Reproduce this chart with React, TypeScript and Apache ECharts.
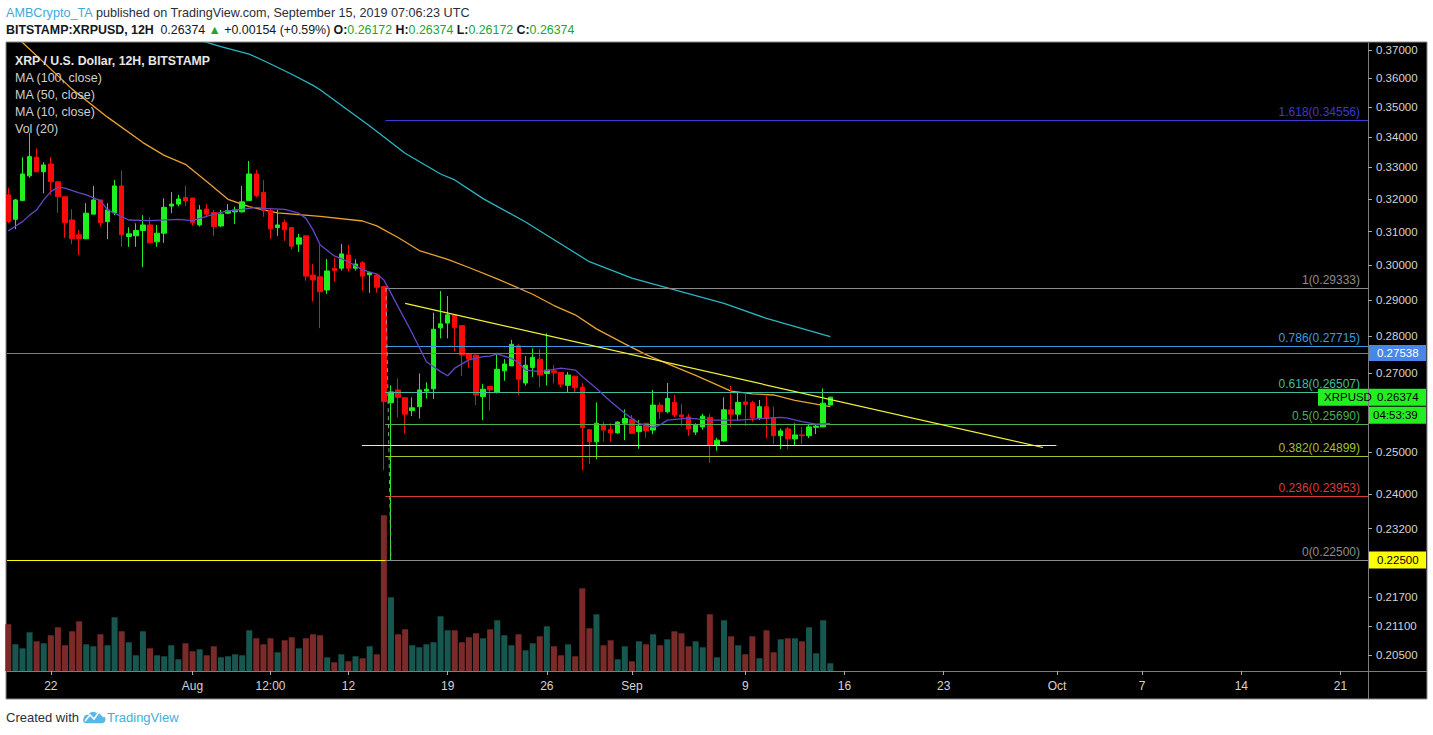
import React, { useEffect, useRef } from 'react';
import * as echarts from 'echarts';

// ---------- data ----------
const HALF_DAY = 12 * 3600 * 1000;
const FIRST_CANDLE = Date.UTC(2019, 6, 19, 0, 0, 0); // 12H candles, BITSTAMP:XRPUSD

const opens = [
  0.3213, 0.3137, 0.3195, 0.3273, 0.3333, 0.3286, 0.3311, 0.3254, 0.3207, 0.3135,
  0.3090, 0.3078, 0.3153, 0.3197, 0.3130, 0.3157, 0.3241, 0.3085, 0.3087, 0.3103,
  0.3120, 0.3069, 0.3095, 0.3178, 0.3184, 0.3205, 0.3203, 0.3120, 0.3169, 0.3158,
  0.3117, 0.3156, 0.3160, 0.3160, 0.3195, 0.3279, 0.3220, 0.3164, 0.3112, 0.3127,
  0.3112, 0.3062, 0.3087, 0.2971, 0.2966, 0.2928, 0.2990, 0.2991, 0.3030, 0.2991,
  0.3007, 0.2972, 0.2971, 0.2938, 0.2623, 0.2656, 0.2636, 0.2603, 0.2613, 0.2653,
  0.2659, 0.2822, 0.2835, 0.2858, 0.2828, 0.2751, 0.2748, 0.2639, 0.2665, 0.2651,
  0.2706, 0.2719, 0.2773, 0.2674, 0.2715, 0.2737, 0.2699, 0.2706, 0.2702, 0.2668,
  0.2692, 0.2663, 0.2555, 0.2525, 0.2567, 0.2555, 0.2547, 0.2571, 0.2581, 0.2550,
  0.2571, 0.2554, 0.2617, 0.2600, 0.2624, 0.2592, 0.2587, 0.2549, 0.2562, 0.2586,
  0.2517, 0.2527, 0.2605, 0.2594, 0.2625, 0.2623, 0.2585, 0.2613, 0.2585, 0.2540,
  0.2557, 0.2532, 0.2542, 0.2540, 0.2561, 0.2562, 0.26172,
];
const highs = [
  0.3235, 0.3200, 0.3333, 0.3413, 0.3362, 0.3317, 0.3333, 0.3254, 0.3207, 0.3168,
  0.3105, 0.3187, 0.3241, 0.3197, 0.3187, 0.3260, 0.3290, 0.3113, 0.3125, 0.3150,
  0.3143, 0.3120, 0.3202, 0.3222, 0.3213, 0.3241, 0.3203, 0.3181, 0.3184, 0.3166,
  0.3166, 0.3184, 0.3176, 0.3241, 0.3321, 0.3292, 0.3260, 0.3171, 0.3166, 0.3137,
  0.3112, 0.3093, 0.3087, 0.3003, 0.3060, 0.3018, 0.3022, 0.3063, 0.3060, 0.3017,
  0.3012, 0.2978, 0.2976, 0.2938, 0.2668, 0.2686, 0.2636, 0.2637, 0.2699, 0.2676,
  0.2864, 0.2925, 0.2911, 0.2858, 0.2828, 0.2751, 0.2748, 0.2672, 0.2665, 0.2754,
  0.2737, 0.2789, 0.2777, 0.2745, 0.2766, 0.2764, 0.2807, 0.2721, 0.2702, 0.2703,
  0.2692, 0.2674, 0.2555, 0.2624, 0.2575, 0.2571, 0.2576, 0.2606, 0.2592, 0.2579,
  0.2571, 0.2656, 0.2624, 0.2674, 0.2643, 0.2620, 0.2595, 0.2571, 0.2595, 0.2595,
  0.2535, 0.2637, 0.2667, 0.2651, 0.2651, 0.2628, 0.2630, 0.2640, 0.2613, 0.2558,
  0.2562, 0.2571, 0.2562, 0.2569, 0.2567, 0.2660, 0.26374,
];
const lows = [
  0.3126, 0.3107, 0.3195, 0.3267, 0.3286, 0.3218, 0.3213, 0.3157, 0.3081, 0.3062,
  0.3030, 0.3078, 0.3153, 0.3115, 0.3077, 0.3150, 0.3054, 0.3054, 0.3054, 0.2994,
  0.3066, 0.3054, 0.3066, 0.3156, 0.3177, 0.3178, 0.3117, 0.3115, 0.3143, 0.3087,
  0.3113, 0.3153, 0.3123, 0.3158, 0.3195, 0.3205, 0.3145, 0.3078, 0.3087, 0.3072,
  0.3046, 0.3039, 0.2955, 0.2895, 0.2821, 0.2917, 0.2952, 0.2984, 0.2981, 0.2984,
  0.2926, 0.2920, 0.2920, 0.2456, 0.2250, 0.2586, 0.2545, 0.2589, 0.2583, 0.2634,
  0.2633, 0.2793, 0.2793, 0.2757, 0.2692, 0.2714, 0.2617, 0.2579, 0.2603, 0.2647,
  0.2680, 0.2719, 0.2643, 0.2667, 0.2690, 0.2663, 0.2668, 0.2673, 0.2663, 0.2649,
  0.2651, 0.2456, 0.2471, 0.2482, 0.2525, 0.2525, 0.2545, 0.2529, 0.2546, 0.2508,
  0.2535, 0.2544, 0.2582, 0.2596, 0.2587, 0.2564, 0.2540, 0.2542, 0.2555, 0.2474,
  0.2503, 0.2525, 0.2562, 0.2579, 0.2564, 0.2575, 0.2579, 0.2534, 0.2520, 0.2507,
  0.2507, 0.2515, 0.2520, 0.2534, 0.2544, 0.2562, 0.26172,
];
const closes = [
  0.3130, 0.3197, 0.3279, 0.3335, 0.3286, 0.3308, 0.3254, 0.3207, 0.3127, 0.3078,
  0.3078, 0.3156, 0.3197, 0.3127, 0.3166, 0.3241, 0.3090, 0.3093, 0.3103, 0.3120,
  0.3066, 0.3095, 0.3174, 0.3184, 0.3200, 0.3194, 0.3127, 0.3166, 0.3153, 0.3115,
  0.3153, 0.3164, 0.3166, 0.3191, 0.3279, 0.3210, 0.3164, 0.3108, 0.3120, 0.3105,
  0.3056, 0.3081, 0.2968, 0.2957, 0.2923, 0.2983, 0.2984, 0.3033, 0.2991, 0.3003,
  0.2968, 0.2978, 0.2936, 0.2626, 0.2651, 0.2637, 0.2594, 0.2610, 0.2656, 0.2658,
  0.2818, 0.2833, 0.2858, 0.2822, 0.2748, 0.2737, 0.2643, 0.2658, 0.2656, 0.2710,
  0.2724, 0.2777, 0.2684, 0.2721, 0.2742, 0.2695, 0.2708, 0.2701, 0.2671, 0.2695,
  0.2662, 0.2560, 0.2525, 0.2571, 0.2554, 0.2547, 0.2574, 0.2583, 0.2546, 0.2564,
  0.2552, 0.2617, 0.2600, 0.2634, 0.2592, 0.2587, 0.2557, 0.2566, 0.2589, 0.2517,
  0.2529, 0.2605, 0.2594, 0.2624, 0.2619, 0.2585, 0.2613, 0.2583, 0.2540, 0.2552,
  0.2532, 0.2542, 0.2540, 0.2562, 0.2564, 0.2622, 0.26374,
];
const volumes = [
  46.7, 26.7, 22.7, 38.7, 29.7, 27.7, 35.7, 43.7, 25.7, 39.7,
  49.7, 26.7, 24.7, 36.7, 25.7, 53.7, 39.7, 28.7, 15.7, 39.7,
  22.7, 15.7, 14.7, 25.7, 11.7, 27.7, 19.7, 21.7, 15.7, 24.7,
  13.7, 14.7, 16.7, 15.7, 40.7, 32.7, 26.7, 32.7, 18.7, 30.7,
  33.7, 22.7, 32.7, 36.7, 35.7, 13.7, 8.7, 16.7, 9.7, 14.7,
  12.7, 24.7, 16.7, 155.7, 73.7, 36.7, 41.7, 25.7, 23.7, 26.7,
  28.7, 54.7, 40.7, 40.7, 28.7, 33.7, 37.7, 32.7, 41.7, 50.7,
  35.7, 25.7, 36.7, 20.7, 27.7, 34.7, 44.7, 24.7, 15.7, 26.7,
  14.7, 82.7, 42.7, 56.7, 25.7, 30.7, 11.7, 24.7, 9.7, 29.7,
  26.7, 36.7, 25.7, 31.7, 39.7, 37.7, 24.7, 29.7, 23.7, 56.7,
  13.7, 50.7, 34.7, 25.7, 16.7, 34.7, 12.7, 40.7, 18.7, 31.7,
  32.7, 32.7, 29.7, 43.7, 17.7, 50.7, 7.7,
];

// moving averages: [candle index, value]
const ma100 = [
  [27, 0.3736], [30, 0.3713], [34, 0.3686], [36, 0.3663], [40, 0.3614], [43, 0.3575],
  [44, 0.356], [51, 0.3436], [56, 0.3346], [61, 0.3279], [63, 0.326], [67, 0.3201],
  [73, 0.3129], [79, 0.3049], [82, 0.301], [88, 0.2962], [93, 0.2934], [101, 0.289],
  [107, 0.2848], [116, 0.2798],
];
const ma50 = [
  [0, 0.3777], [2, 0.3728], [9, 0.3562], [14, 0.3466], [19, 0.3381], [22, 0.3339],
  [25, 0.331], [28, 0.3255], [31, 0.3199], [34, 0.3176], [38, 0.3157], [44, 0.3146],
  [50, 0.3132], [52, 0.3117], [55, 0.3082], [58, 0.3043], [62, 0.3017], [65, 0.2993],
  [69, 0.296], [74, 0.2916], [77, 0.2884], [80, 0.2858], [83, 0.2819], [87, 0.2778],
  [90, 0.2749], [94, 0.2717], [97, 0.2694], [102, 0.2653], [105, 0.2646], [108, 0.2643],
  [111, 0.2629], [116, 0.2613],
];
const ma10 = [
  [0, 0.3102], [1, 0.3116], [2, 0.313], [3, 0.315], [4, 0.3166], [5, 0.3197], [6, 0.3223],
  [7, 0.3237], [8, 0.3234], [10, 0.3219], [11, 0.3213], [13, 0.3195], [14, 0.3166],
  [17, 0.3135], [20, 0.3133], [24, 0.3137], [26, 0.3133], [29, 0.3153], [31, 0.3163],
  [33, 0.3168], [35, 0.3174], [36, 0.3171], [39, 0.3168], [41, 0.3156], [42, 0.314],
  [43, 0.3105], [44, 0.306], [46, 0.3027], [48, 0.301], [50, 0.2986], [52, 0.2974],
  [53, 0.2957], [54, 0.2919], [55, 0.2881], [57, 0.2807], [59, 0.273], [61, 0.2704],
  [62, 0.2693], [63, 0.2713], [65, 0.2735], [67, 0.2744], [68, 0.2745], [69, 0.2751],
  [71, 0.2739], [72, 0.2728], [73, 0.2708], [75, 0.2704], [77, 0.271], [78, 0.2713],
  [80, 0.2708], [81, 0.2691], [83, 0.266], [85, 0.2626], [87, 0.2596], [89, 0.2571],
  [91, 0.2561], [92, 0.2567], [93, 0.2579], [96, 0.2584], [99, 0.2579], [103, 0.2579],
  [107, 0.2584], [109, 0.2586], [110, 0.2584], [112, 0.2575], [114, 0.2569], [116, 0.2571],
];

// price axis labels that are visible (0.26 and 0.224 sit under the price boxes)
const priceTicks = [
  0.37, 0.36, 0.35, 0.34, 0.33, 0.32, 0.31, 0.3, 0.29, 0.28, 0.27, 0.25, 0.24,
  0.232, 0.217, 0.211, 0.205,
];
const dateTicks = [
  '2019-07-22T00:00:00Z', '2019-08-01T00:00:00Z', '2019-08-06T12:00:00Z', '2019-08-12T00:00:00Z',
  '2019-08-19T00:00:00Z', '2019-08-26T00:00:00Z', '2019-09-01T00:00:00Z', '2019-09-09T00:00:00Z',
  '2019-09-16T00:00:00Z', '2019-09-23T00:00:00Z', '2019-10-01T00:00:00Z', '2019-10-07T00:00:00Z',
  '2019-10-14T00:00:00Z', '2019-10-21T00:00:00Z',
];
const dateTickLabels = ['22', 'Aug', '12:00', '12', '19', '26', 'Sep', '9', '16', '23', 'Oct', '7', '14', '21'];

const fibRatios = ['1.618', '1', '0.786', '0.618', '0.5', '0.382', '0.236', '0'];
const fibPrices = [0.34556, 0.29333, 0.27715, 0.26507, 0.2569, 0.24899, 0.23953, 0.225];
const fibColors = ['#3a3ad0', '#8c8c8c', '#3b9be0', '#3fbf9f', '#4caf50', '#a3c22e', '#dc3b3b', '#8c8c8c'];
const fibStartIndex = 53.2;

const blueLevel = 0.27538;
const yellowLevel = 0.225;
const supportLevel = 0.2517;
const supportFromTo = [49.9, 147.9];
const trendFrom = [56.0, 0.289];
const trendTo = [146.0, 0.2511];
const lastPrice = 0.26374;

// view window (in 12H candle indices and prices)
const X_FROM = -0.183;
const X_TO = 191.88;
const Y_MIN = 0.2019;
const Y_MAX = 0.3726;

const UP = '#1ff01f';
const DOWN = '#f80a0a';
const VOL_UP = '#17574f';
const VOL_DOWN = '#7b2a2a';
const FONT = '"Liberation Sans", Arial, sans-serif';

const indexOfDate = (iso: string) => (Date.parse(iso) - FIRST_CANDLE) / HALF_DAY;

export default function App() {
  const ref = useRef<HTMLDivElement>(null);

  useEffect(() => {
    if (!ref.current) return;
    const chart = echarts.init(ref.current, null, { renderer: 'svg' });

    const tickIdx = dateTicks.map(indexOfDate);
    const labelFor = (v: number) => {
      for (let k = 0; k < tickIdx.length; k++) {
        if (Math.abs(tickIdx[k] - v) < 0.01) return dateTickLabels[k];
      }
      return '';
    };
    const logTicks = priceTicks.map((p) => Math.log(p));

    const candleData = opens.map((o, i) => [i, o, closes[i], lows[i], highs[i]]);
    const volData = volumes.map((v, i) => ({
      value: [i, v],
      itemStyle: { color: closes[i] >= opens[i] ? VOL_UP : VOL_DOWN },
    }));

    const hLine = (from: number, to: number, p: number, color: string, width = 1) => [
      { coord: [from, p], lineStyle: { color, width, type: 'solid' }, label: { show: false } },
      { coord: [to, p] },
    ];

    const markLines: any[] = [];
    markLines.push(hLine(X_FROM, X_TO, yellowLevel, '#ffff00'));
    markLines.push(hLine(X_FROM, X_TO, blueLevel, '#4a86e8'));
    fibPrices.forEach((p, k) => {
      markLines.push([
        {
          coord: [fibStartIndex, p],
          lineStyle: { color: fibColors[k], width: 1, type: 'solid' },
          label: {
            show: true,
            position: 'insideEndTop',
            formatter: `${fibRatios[k]}(${p.toFixed(5)})`,
            color: fibColors[k],
            fontSize: 12,
            fontFamily: FONT,
            distance: [8, 2],
          },
        },
        { coord: [X_TO, p] },
      ]);
    });
    markLines.push([
      { coord: [53.3, fibPrices[1]], lineStyle: { color: '#9a9a9a', width: 1, type: [4, 4] }, label: { show: false } },
      { coord: [54.0, fibPrices[7]] },
    ]);
    markLines.push(hLine(supportFromTo[0], supportFromTo[1], supportLevel, '#ffff40'));
    markLines.push([
      { coord: [trendFrom[0], trendFrom[1]], lineStyle: { color: '#f2f23a', width: 1.2, type: 'solid' }, label: { show: false } },
      { coord: [trendTo[0], trendTo[1]] },
    ]);

    const option: any = {
      animation: false,
      backgroundColor: '#ffffff',
      grid: { left: 7, top: 43, width: 1361, height: 628, containLabel: false },
      xAxis: {
        type: 'value',
        min: X_FROM,
        max: X_TO,
        axisLine: { show: true, lineStyle: { color: '#7c7c7c', width: 1 } },
        axisTick: { show: true, customValues: tickIdx, length: 4, lineStyle: { color: '#a8a8a8' } },
        axisLabel: {
          customValues: tickIdx,
          formatter: (v: number) => labelFor(v),
          color: '#d4d4d4',
          fontSize: 12,
          fontFamily: FONT,
          margin: 9,
        },
        splitLine: { show: false },
      },
      yAxis: [
        {
          type: 'log',
          logBase: 10,
          min: Y_MIN,
          max: Y_MAX,
          position: 'right',
          axisLine: { show: false },
          axisTick: { show: false },
          axisLabel: { show: false },
          splitLine: { show: false },
        },
        {
          type: 'value',
          min: Math.log(Y_MIN),
          max: Math.log(Y_MAX),
          position: 'right',
          axisLine: { show: true, lineStyle: { color: '#7c7c7c', width: 1 } },
          axisTick: { show: true, customValues: logTicks, length: 4, lineStyle: { color: '#a8a8a8' } },
          axisLabel: {
            customValues: logTicks,
            formatter: (v: number) => Math.exp(v).toFixed(5),
            color: '#d4d4d4',
            fontSize: 11.5,
            fontFamily: FONT,
            margin: 8,
          },
          splitLine: { show: false },
        },
        {
          type: 'value',
          min: 0,
          max: 628,
          show: false,
          splitLine: { show: false },
        },
      ],
      series: [
        {
          type: 'bar',
          name: 'Vol',
          yAxisIndex: 2,
          data: volData,
          barWidth: 6,
          z: 1,
          silent: true,
        },
        {
          type: 'line',
          name: 'MA100',
          yAxisIndex: 0,
          data: ma100,
          showSymbol: false,
          symbol: 'none',
          lineStyle: { color: '#2bb6c4', width: 1.3 },
          z: 3,
          silent: true,
        },
        {
          type: 'line',
          name: 'MA50',
          yAxisIndex: 0,
          data: ma50,
          showSymbol: false,
          symbol: 'none',
          lineStyle: { color: '#e9a230', width: 1.3 },
          z: 3,
          silent: true,
        },
        {
          type: 'candlestick',
          name: 'XRPUSD',
          yAxisIndex: 0,
          data: candleData,
          encode: { x: 0, y: [1, 2, 3, 4] },
          barWidth: 5,
          itemStyle: { color: UP, color0: DOWN, borderColor: UP, borderColor0: DOWN, borderWidth: 1 },
          z: 4,
          silent: true,
          markLine: {
            silent: true,
            symbol: ['none', 'none'],
            animation: false,
            data: markLines,
          },
        },
        {
          type: 'line',
          name: 'MA10',
          yAxisIndex: 0,
          data: ma10,
          showSymbol: false,
          symbol: 'none',
          lineStyle: { color: '#6445c9', width: 1.3 },
          z: 5,
          silent: true,
        },
      ],
    };
    chart.setOption(option);

    const py = (p: number) => chart.convertToPixel({ yAxisIndex: 0 }, p) as unknown as number;
    const yBlue = py(blueLevel);
    const yLast = py(lastPrice);
    const yYellow = py(yellowLevel);

    const boxText = (x: number, y: number, text: string, fill: string) => ({
      type: 'text',
      x,
      y,
      z: 60,
      style: { text, fill, font: `11.5px ${FONT}`, verticalAlign: 'middle', align: 'left' },
    });
    const box = (x: number, y: number, w: number, h: number, fill: string) => ({
      type: 'rect',
      z: 55,
      shape: { x, y, width: w, height: h },
      style: { fill },
    });

    const logoPath =
      'M5 15 C1.5 15 0 12 1.8 9.8 C1.5 6.8 4.5 5.2 7 6.3 C8.3 3 12.5 1.8 15 4.2 C17.3 2.3 21.3 3.5 21.5 7 C24.3 7.3 25.5 10.5 24.2 12.8 C23.5 14.2 22.3 15 20.5 15 Z';
    echarts.graphic.registerShape('tvCloud', echarts.graphic.extendPath(logoPath, {}) as any);

    chart.setOption({
      graphic: [
        {
          type: 'rect',
          z: -100,
          shape: { x: 6, y: 42, width: 1421, height: 657 },
          style: { fill: '#000000', stroke: '#8a8a8a', lineWidth: 1 },
        },
        {
          type: 'line',
          z: 50,
          shape: { x1: 1368.5, y1: 671, x2: 1368.5, y2: 699 },
          style: { stroke: '#7c7c7c', lineWidth: 1 },
        },
        {
          type: 'line',
          z: 50,
          shape: { x1: 1368, y1: 671.5, x2: 1427, y2: 671.5 },
          style: { stroke: '#7c7c7c', lineWidth: 1 },
        },
        // header
        {
          type: 'text',
          x: 6,
          y: 13,
          z: 60,
          style: {
            text: '{a|AMBCrypto_TA} {b|published on TradingView.com, September 15, 2019 07:06:23 UTC}',
            verticalAlign: 'middle',
            rich: {
              a: { fill: '#3ea9dc', fontSize: 12.6, fontFamily: FONT },
              b: { fill: '#2a2e39', fontSize: 12.6, fontFamily: FONT },
            },
          },
        },
        {
          type: 'text',
          x: 6,
          y: 30,
          z: 60,
          style: {
            text:
              '{b|BITSTAMP:XRPUSD, 12H}  {n|0.26374} {g|▲} {n|+0.00154 (+0.59%)} {b|O:}{g|0.26172} {b|H:}{g|0.26374} {b|L:}{g|0.26172} {b|C:}{g|0.26374}',
            verticalAlign: 'middle',
            rich: {
              b: { fill: '#131722', fontSize: 12.4, fontWeight: 'bold', fontFamily: FONT },
              n: { fill: '#131722', fontSize: 12.4, fontFamily: FONT },
              g: { fill: '#22a534', fontSize: 12.4, fontFamily: FONT },
            },
          },
        },
        // legend inside the chart
        {
          type: 'text',
          x: 15,
          y: 61,
          z: 60,
          style: { text: 'XRP / U.S. Dollar, 12H, BITSTAMP', fill: '#e6e6e6', font: `bold 12.3px ${FONT}`, verticalAlign: 'middle' },
        },
        {
          type: 'text',
          x: 15,
          y: 78,
          z: 60,
          style: { text: 'MA (100, close)', fill: '#cfcfcf', font: `12.5px ${FONT}`, verticalAlign: 'middle' },
        },
        {
          type: 'text',
          x: 15,
          y: 95,
          z: 60,
          style: { text: 'MA (50, close)', fill: '#cfcfcf', font: `12.5px ${FONT}`, verticalAlign: 'middle' },
        },
        {
          type: 'text',
          x: 15,
          y: 112,
          z: 60,
          style: { text: 'MA (10, close)', fill: '#cfcfcf', font: `12.5px ${FONT}`, verticalAlign: 'middle' },
        },
        {
          type: 'text',
          x: 15,
          y: 129,
          z: 60,
          style: { text: 'Vol (20)', fill: '#cfcfcf', font: `12.5px ${FONT}`, verticalAlign: 'middle' },
        },
        // price boxes on the right axis
        box(1369, yBlue - 8, 57, 16, '#4a86e8'),
        boxText(1377, yBlue, blueLevel.toFixed(5), '#ffffff'),
        box(1318, yLast - 8.5, 50, 17, '#22ee22'),
        boxText(1324, yLast, 'XRPUSD', '#000000'),
        box(1369, yLast - 8.5, 57, 17, '#22ee22'),
        boxText(1377, yLast, lastPrice.toFixed(5), '#000000'),
        box(1369, yLast + 9.5, 57, 17, '#22ee22'),
        boxText(1373, yLast + 18, '04:53:39', '#000000'),
        box(1369, yYellow - 8.5, 57, 17, '#ffff00'),
        boxText(1377, yYellow, yellowLevel.toFixed(5), '#000000'),
        // footer
        {
          type: 'text',
          x: 6,
          y: 717,
          z: 60,
          style: { text: 'Created with', fill: '#2a2e39', font: `13px ${FONT}`, verticalAlign: 'middle' },
        },
        {
          type: 'tvCloud',
          x: 82,
          y: 709,
          scaleX: 0.95,
          scaleY: 0.95,
          z: 60,
          style: { fill: '#59b9e6' },
        },
        {
          type: 'polyline',
          z: 61,
          shape: { points: [[85, 721], [90, 715], [94, 719], [99, 712], [104, 717]] },
          style: { stroke: '#ffffff', lineWidth: 1.6, fill: null },
        },
        {
          type: 'text',
          x: 107,
          y: 717,
          z: 60,
          style: { text: 'TradingView', fill: '#42aee0', font: `13px ${FONT}`, verticalAlign: 'middle' },
        },
      ],
    });

    return () => chart.dispose();
  }, []);

  return (
    <div
      ref={ref}
      style={{ position: 'fixed', left: 0, top: 0, width: 1433, height: 735, background: '#ffffff' }}
    />
  );
}
